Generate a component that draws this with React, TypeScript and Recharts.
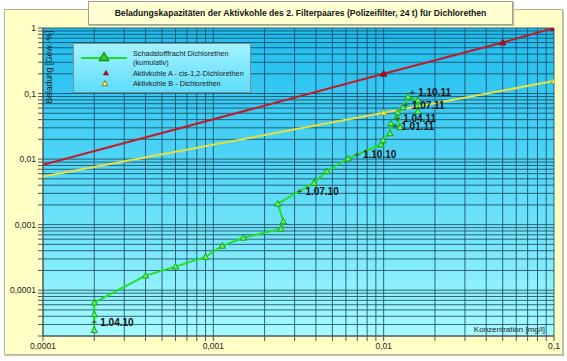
import React from 'react';
import { ComposedChart, Scatter, XAxis, YAxis, CartesianGrid } from 'recharts';

const FONT = '"Liberation Sans", Arial, sans-serif';

// Achsen (log)
const xDecades = [0.0001, 0.001, 0.01, 0.1];
const xDecadeLabels = ['0,0001', '0,001', '0,01', '0,1'];
const yDecades = [0.0001, 0.001, 0.01, 0.1, 1];
const yDecadeLabels = ['0,0001', '0,001', '0,01', '0,1', '1'];
const yMin = 0.00002;

// Schadstofffracht Dichlorethen (kumulativ)
const frachtKonz = [
  0.0002, 0.0002, 0.0002, 0.0004, 0.0006, 0.0009, 0.00113, 0.0015, 0.00249, 0.00258, 0.00239,
  0.0039, 0.00463, 0.00618, 0.00964, 0.00991, 0.0109, 0.011, 0.0125, 0.012, 0.0121, 0.013,
  0.0139, 0.0159, 0.0159,
];
const frachtBeladung = [
  0.0000246, 0.0000428, 0.0000644, 0.000167, 0.000229, 0.000322, 0.000475, 0.00063, 0.000865,
  0.00112, 0.00209, 0.00434, 0.00653, 0.0102, 0.0167, 0.0193, 0.0247, 0.0351, 0.0305, 0.0434,
  0.0517, 0.0617, 0.0893, 0.0789, 0.0536,
];

// Aktivkohle A - cis-1,2-Dichlorethen
const kohleAKonz = [0.0001, 0.01, 0.05, 0.1];
const kohleABeladung = [0.0082, 0.2, 0.6, 1];

// Aktivkohle B - Dichlorethen
const kohleBKonz = [0.0001, 0.01, 0.1];
const kohleBBeladung = [0.0054, 0.051, 0.155];

// Datumsmarken
const datumKonz = [0.0002, 0.0032, 0.00697, 0.0117, 0.012, 0.0135, 0.0147];
const datumBeladung = [0.0000326, 0.00322, 0.0116, 0.0319, 0.0414, 0.0669, 0.1036];
const datumLabels = ['1.04.10', '1.07.10', '1.10.10', '1.01.11', '1.04.11', '1.07.11', '1.10.11'];

const logTicks = (decades: number[], min: number) => {
  const out: number[] = [];
  decades.forEach((d, i) => {
    if (i === decades.length - 1) {
      out.push(d);
      return;
    }
    for (let m = 1; m <= 9; m++) out.push(+(m * d).toPrecision(3));
  });
  const below: number[] = [];
  for (let m = 2; m <= 9; m++) {
    const v = +((m * decades[0]) / 10).toPrecision(3);
    if (v >= min) below.push(v);
  }
  return [...below, ...out];
};

const xTicks = logTicks(xDecades, xDecades[0]);
const yTicks = logTicks(yDecades, yMin);

const fmt = (labels: string[], decades: number[]) => (v: number) => {
  const i = decades.findIndex((d) => Math.abs(d - v) / d < 1e-6);
  return i >= 0 ? labels[i] : '';
};

const toPoints = (xs: number[], ys: number[]) => xs.map((x, i) => ({ x, y: ys[i], i }));

const fracht = toPoints(frachtKonz, frachtBeladung);
const kohleA = toPoints(kohleAKonz, kohleABeladung);
const kohleB = toPoints(kohleBKonz, kohleBBeladung);
const datum = datumKonz.map((x, i) => ({ x, y: datumBeladung[i], label: datumLabels[i] }));

const tri = (cx: number, cy: number, r: number) =>
  `${cx},${cy - r} ${cx - r},${cy + r * 0.75} ${cx + r},${cy + r * 0.75}`;

const GreenTri = (p: any) => (
  <polygon points={tri(p.cx, p.cy, 3.2)} fill="#6cf06c" stroke="#13a313" strokeWidth={1} />
);

const RedTri = (p: any) =>
  p.payload.i === 0 ? <g /> : <polygon points={tri(p.cx, p.cy, 3.2)} fill="#b0101a" stroke="#7a0a10" strokeWidth={0.8} />;

const YellowTri = (p: any) =>
  p.payload.i === 0 ? <g /> : <polygon points={tri(p.cx, p.cy, 3.2)} fill="#f4f040" stroke="#9a9420" strokeWidth={0.8} />;

const DateMark = (p: any) => (
  <g>
    <line x1={p.cx - 2.5} x2={p.cx + 2.5} y1={p.cy} y2={p.cy} stroke="#333" strokeWidth={0.8} />
    <line x1={p.cx} x2={p.cx} y1={p.cy - 2.5} y2={p.cy + 2.5} stroke="#333" strokeWidth={0.8} />
    <text x={p.cx + 6} y={p.cy + 3.6} fontSize={10} fontWeight="bold" fill="#151515" fontFamily={FONT}>
      {p.payload.label}
    </text>
  </g>
);

const LegendBox = () => (
  <div
    style={{
      position: 'absolute',
      left: 73,
      top: 43,
      width: 176,
      height: 48,
      border: '1px solid #7a8c94',
      background: 'linear-gradient(#a4f3ff, #5fdcfb)',
      fontFamily: FONT,
      fontSize: 7.3,
      color: '#1a1a1a',
    }}
  >
    <svg width={176} height={48} style={{ position: 'absolute', left: 0, top: 0 }}>
      <line x1={7} x2={53} y1={14} y2={14} stroke="#22dd22" strokeWidth={2} />
      <polygon points={tri(30, 13, 5)} fill="#2ccf2c" stroke="#0b7a0b" strokeWidth={1} />
      <polygon points={tri(32, 29, 2.6)} fill="#b0101a" stroke="#7a0a10" strokeWidth={0.6} />
      <polygon points={tri(31, 39.5, 3)} fill="#f4f040" stroke="#6a6a20" strokeWidth={0.8} />
    </svg>
    <div style={{ position: 'absolute', left: 59, top: 5, lineHeight: '9px' }}>
      Schadstofffracht Dichlorethen
      <br />
      (kumulativ)
    </div>
    <div style={{ position: 'absolute', left: 59, top: 24.5, lineHeight: '9px' }}>
      Aktivkohle A - cis-1,2-Dichlorethen
    </div>
    <div style={{ position: 'absolute', left: 59, top: 35, lineHeight: '9px' }}>
      Aktivkohle B - Dichlorethen
    </div>
  </div>
);

const App = () => {
  return (
    <div style={{ position: 'absolute', left: 0, top: 0, width: 567, height: 361, background: '#fff' }}>
      <div
        style={{
          position: 'absolute',
          left: 4,
          top: 9,
          width: 557,
          height: 344,
          background: '#ffffc6',
          border: '1px solid #b4b49a',
          boxShadow: '1px 1px 1px #c8c8c0',
        }}
      />
      <div
        style={{
          position: 'absolute',
          left: 43,
          top: 28,
          width: 511,
          height: 308,
          background: 'linear-gradient(#1ebbee, #52d6f7 45%, #a6fbff)',
        }}
      />
      <div style={{ position: 'absolute', left: 0, top: 0 }}>
        <ComposedChart width={567} height={361} margin={{ top: 28, right: 13, bottom: 5, left: 0 }}>
          <CartesianGrid stroke="#1b4c60" strokeOpacity={0.85} strokeWidth={1} />
          <XAxis
            dataKey="x"
            type="number"
            scale="log"
            domain={[xDecades[0], xDecades[xDecades.length - 1]]}
            allowDataOverflow
            ticks={xTicks}
            interval={0}
            tickFormatter={fmt(xDecadeLabels, xDecades)}
            height={20}
            tickSize={5}
            tick={{ fontSize: 8.5, fill: '#222', fontFamily: FONT }}
            axisLine={{ stroke: '#555' }}
            tickLine={{ stroke: '#555' }}
          />
          <YAxis
            dataKey="y"
            type="number"
            scale="log"
            domain={[yMin, 1]}
            allowDataOverflow
            ticks={yTicks}
            interval={0}
            tickFormatter={fmt(yDecadeLabels, yDecades)}
            width={43}
            tickSize={5}
            tick={{ fontSize: 8.5, fill: '#222', fontFamily: FONT }}
            axisLine={{ stroke: '#555' }}
            tickLine={{ stroke: '#555' }}
          />
          <Scatter
            data={kohleA}
            line={{ stroke: '#c01c28', strokeWidth: 2 }}
            shape={RedTri}
            isAnimationActive={false}
          />
          <Scatter
            data={kohleB}
            line={{ stroke: '#e6e044', strokeWidth: 2 }}
            shape={YellowTri}
            isAnimationActive={false}
          />
          <Scatter
            data={fracht}
            line={{ stroke: '#22e022', strokeWidth: 2 }}
            shape={GreenTri}
            isAnimationActive={false}
          />
          <Scatter data={datum} shape={DateMark} isAnimationActive={false} />
          <text x={49} y={67} transform="rotate(-90 49 67)" textAnchor="middle" dominantBaseline="central"
            fontSize={8.5} fill="#222" fontFamily={FONT}>
            Beladung [Gew.-%]
          </text>
          <text x={545} y={332} textAnchor="end" fontSize={8} fill="#222" fontFamily={FONT}>
            Konzentration [mg/l]
          </text>
        </ComposedChart>
      </div>
      <div
        style={{
          position: 'absolute',
          left: 88,
          top: 1,
          width: 423,
          height: 22,
          background: '#ffffd2',
          border: '1px solid #a0a090',
          boxShadow: '1px 1px 1px #c0c0b0',
          fontFamily: FONT,
          fontSize: 8.6,
          fontWeight: 'bold',
          color: '#151515',
          textAlign: 'center',
          lineHeight: '22px',
        }}
      >
        Beladungskapazitäten der Aktivkohle des 2. Filterpaares (Polizeifilter, 24 t) für Dichlorethen
      </div>
      <LegendBox />
    </div>
  );
};

export default App;
